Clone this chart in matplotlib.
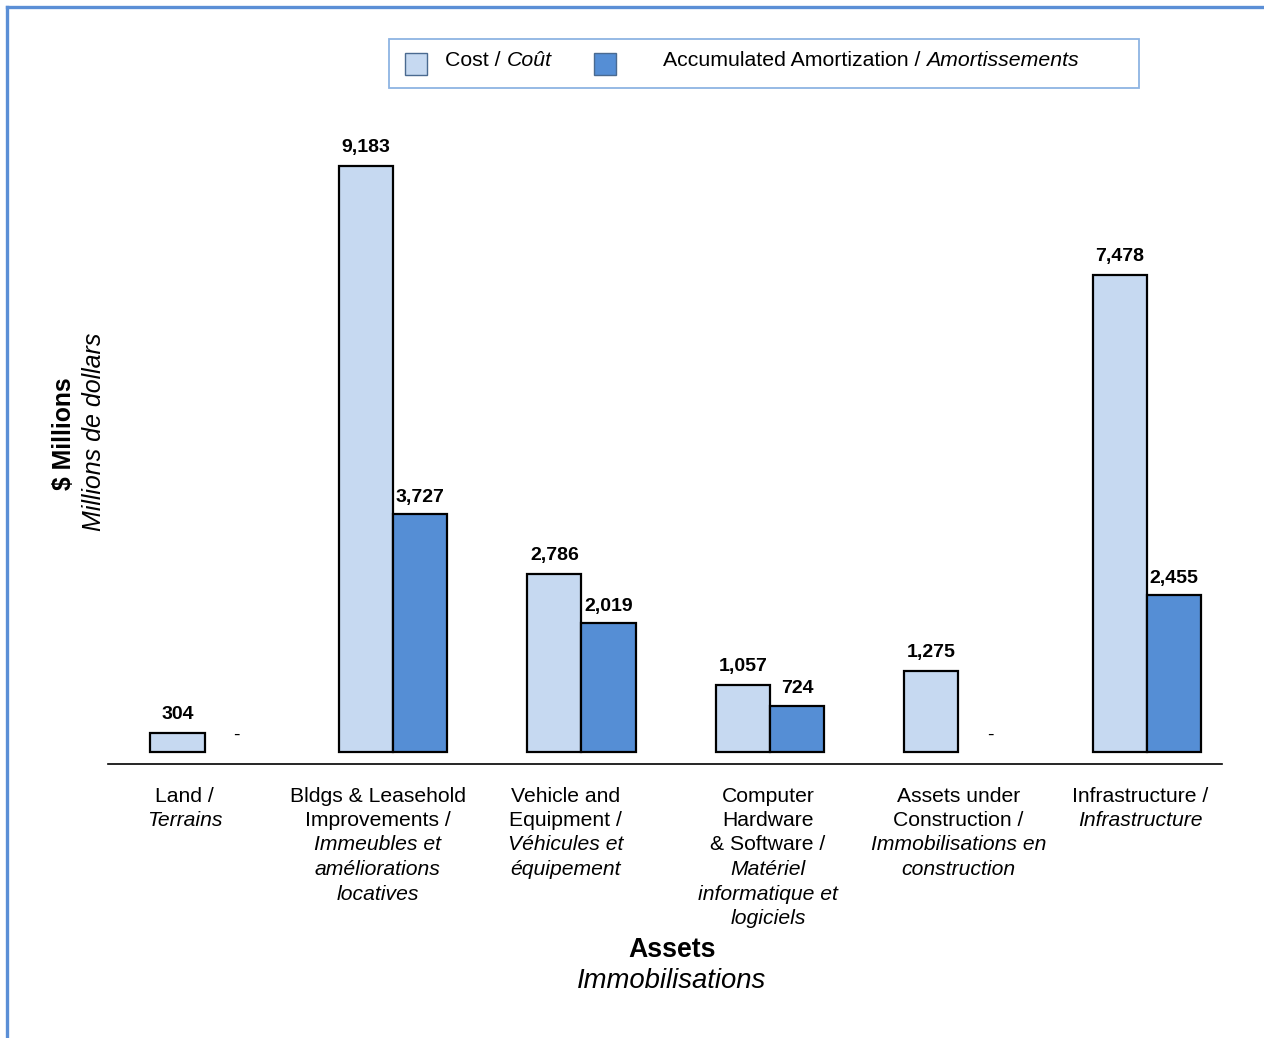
import matplotlib
matplotlib.use("Agg")
import matplotlib.pyplot as plt
import matplotlib.transforms as mtransforms
from matplotlib.patches import Rectangle
from matplotlib.lines import Line2D
import numpy as np

plt.rcParams['font.family'] = ['Liberation Sans', 'DejaVu Sans']

# Asset classes: (regular English lines, italic French lines)
categories_en = [
    ["Land /"],
    ["Bldgs & Leasehold", "Improvements /"],
    ["Vehicle and", "Equipment /"],
    ["Computer", "Hardware", "& Software /"],
    ["Assets under", "Construction /"],
    ["Infrastructure /"],
]
categories_fr = [
    ["Terrains"],
    ["Immeubles et", "améliorations", "locatives"],
    ["Véhicules et", "équipement"],
    ["Matériel", "informatique et", "logiciels"],
    ["Immobilisations en", "construction"],
    ["Infrastructure"],
]
cost = [304, 9183, 2786, 1057, 1275, 7478]
amortization = [0, 3727, 2019, 724, 0, 2455]

series_names = [("Cost / ", "Coût"),
                ("Accumulated Amortization / ", "Amortissements")]

COST_COLOR = "#c6d9f1"
AMORT_COLOR = "#558ed5"
FRAME_COLOR = "#5b8fd6"

W, H = 1264, 1038
fig = plt.figure(figsize=(W / 100, H / 100), dpi=100)


def fx(px):
    return px / W


def fy(py):
    return 1 - py / H


# Plot area in pixels
left_px, right_px, top_px, bottom_px = 108, 1222, 100, 764
ax = fig.add_axes([fx(left_px), fy(bottom_px),
                   fx(right_px - left_px), (bottom_px - top_px) / H])

x = np.arange(len(cost))
width = 0.287


def edges(values):
    return ["black" if v else "none" for v in values]


ax.bar(x - width / 2, cost, width, color=COST_COLOR, edgecolor=edges(cost),
       linewidth=1.6, zorder=3)
ax.bar(x + width / 2, amortization, width, color=AMORT_COLOR,
       edgecolor=edges(amortization), linewidth=1.6, zorder=3)

ax.set_xlim(-0.512, 5.398)
ax.set_ylim(-188, 10217)

for xi, v in zip(x - width / 2, cost):
    ax.annotate(f"{v:,}" if v else "-", (xi, v), xytext=(0, 10),
                textcoords="offset points", ha="center", va="baseline",
                fontsize=14, fontweight="bold")
for xi, v in zip(x + width / 2, amortization):
    ax.annotate(f"{v:,}" if v else "-", (xi + (0.025 if v == 0 else 0), v),
                xytext=(0, 9), textcoords="offset points", ha="center",
                va="baseline", fontsize=14,
                fontweight="bold" if v else "normal")

for s in ["top", "right", "left"]:
    ax.spines[s].set_visible(False)
ax.spines["bottom"].set_linewidth(1.2)
ax.set_xticks([])
ax.set_yticks([])

# Category labels below the axis
blend = mtransforms.blended_transform_factory(ax.transData, fig.transFigure)
label_shift = [-0.106, -0.08, -0.085, -0.01, 0.0, -0.037]
line_step = 24.5
for i, (en, fr) in enumerate(zip(categories_en, categories_fr)):
    ypx = 796
    for line in en:
        ax.text(i + label_shift[i], fy(ypx), line, transform=blend,
                ha="center", va="center", fontsize=15.2)
        ypx += line_step
    for line in fr:
        ax.text(i + label_shift[i], fy(ypx), line, transform=blend,
                ha="center", va="center", fontsize=15.2, style="italic")
        ypx += line_step

# Axis titles
fig.text(fx(672), fy(950), "Assets", ha="center", va="center",
         fontsize=19.2, fontweight="bold")
fig.text(fx(672), fy(981), "Immobilisations", ha="center", va="center",
         fontsize=19.8, style="italic")
fig.text(fx(64), fy(434), "$ Millions", ha="center", va="center",
         fontsize=17.8, fontweight="bold", rotation=90)
fig.text(fx(94), fy(432), "Millions de dollars", ha="center", va="center",
         fontsize=18, style="italic", rotation=90)

# Legend
fig.patches.append(Rectangle((fx(389), fy(88)), fx(1139 - 389), (88 - 39) / H,
                             transform=fig.transFigure, facecolor="white",
                             edgecolor="#8eb4e3", linewidth=1.3))
legend_items = [(405, 445, COST_COLOR), (594, 663, AMORT_COLOR)]
for (sq_x, txt_x, col), (reg, ital) in zip(legend_items, series_names):
    fig.patches.append(Rectangle((fx(sq_x), fy(75)), fx(22), 22 / H,
                                 transform=fig.transFigure, facecolor=col,
                                 edgecolor="#4a6a90", linewidth=1.0))
    t = fig.text(fx(txt_x), fy(61), reg, ha="left", va="center", fontsize=15.3)
    fig.canvas.draw()
    bb = t.get_window_extent()
    fig.text(bb.x1 / W, fy(61), ital, ha="left", va="center", fontsize=15.3,
             style="italic")

# Outer frame (top and left edges visible)
fig.lines.append(Line2D([fx(7), 1], [fy(6.5), fy(6.5)], transform=fig.transFigure,
                        color=FRAME_COLOR, linewidth=2.4))
fig.lines.append(Line2D([fx(7), fx(7)], [0, fy(6.5)], transform=fig.transFigure,
                        color=FRAME_COLOR, linewidth=2.4))

fig.savefig("out.png", dpi=100)
